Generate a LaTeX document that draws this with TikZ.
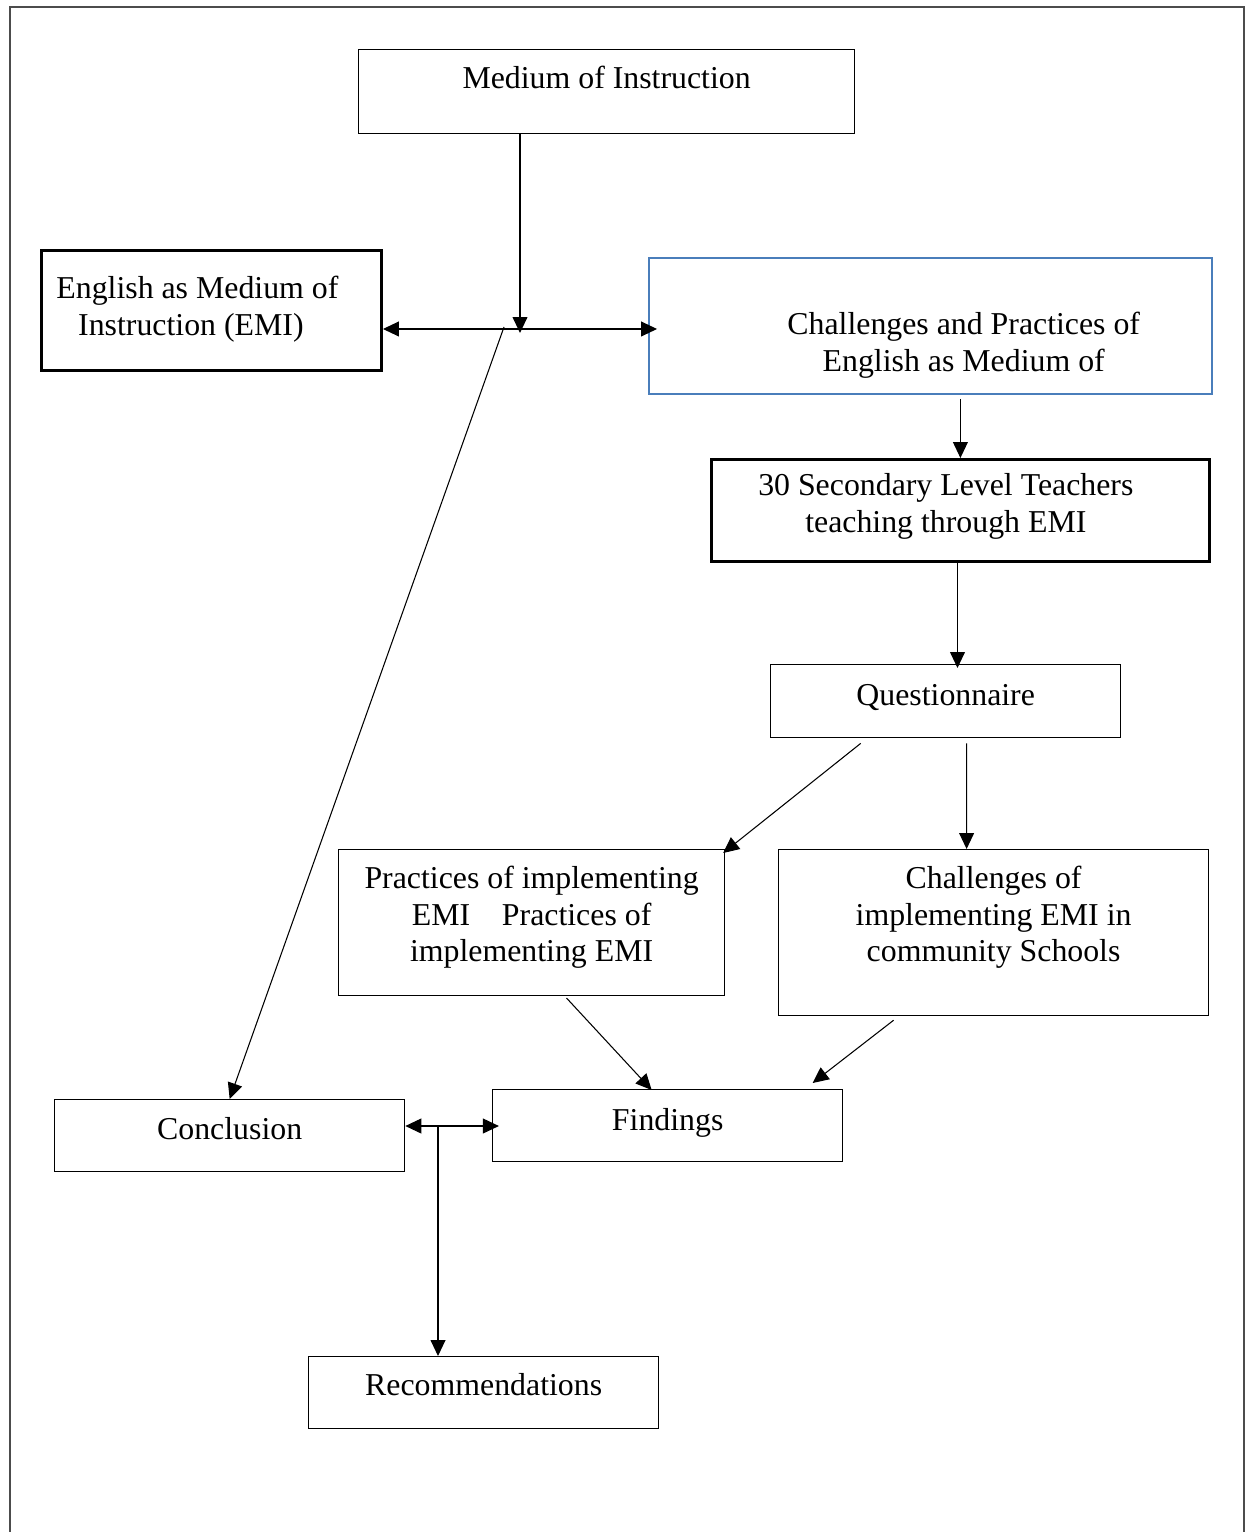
\documentclass[tikz,border=0pt]{standalone}
\usepackage{fontspec}
\setmainfont{Liberation Serif}
\usepackage{xcolor}
\usepackage{tikz}
\usetikzlibrary{arrows.meta}
\definecolor{boxblue}{HTML}{4A7EBB}

\begin{document}
\begin{tikzpicture}[
  x=0.377pt, y=-0.377pt,
  font=\fontsize{12}{13.8}\selectfont,
  box/.style={draw, anchor=north west, align=center, inner sep=0pt, line width=0.45pt},
  thickbox/.style={box, line width=1.1pt},
  bluebox/.style={box, draw=boxblue, line width=0.75pt},
  arrow/.style={-{Triangle[length=6pt, width=5.6pt]}},
  dblarrow/.style={{Triangle[length=6pt, width=5.6pt]}-{Triangle[length=6pt, width=5.6pt]}},
  frame/.style={draw=black!70, line width=0.6pt}
]
\useasboundingbox (0,0) rectangle (1252,1532);
\draw[frame] (10,1532) -- (10,7) -- (1244,7) -- (1244,1532);

\node[box, minimum width=187pt, text height=14.7pt, text depth=17pt] (moi) at (358,49) {Medium of Instruction};
\node[thickbox, minimum width=128.2pt, text height=31.9pt, text depth=13.3pt] (emi) at (40,249) {\hspace*{-10.6pt}English as Medium of\\\hspace*{-15.5pt}Instruction (EMI)};
\node[bluebox, minimum width=212.3pt, text height=42.8pt, text depth=8.4pt] (chal) at (648,257) {\hspace*{25pt}Challenges and Practices of\\\hspace*{25pt}English as Medium of};
\node[thickbox, minimum width=187.7pt, text height=27.4pt, text depth=11.1pt] (teach) at (710,458) {\hspace*{-11pt}30 Secondary Level Teachers\\\hspace*{-11pt}teaching through EMI};
\node[box, minimum width=132pt, text height=15.5pt, text depth=12.1pt] (qst) at (770,664) {Questionnaire};
\node[box, minimum width=145.5pt, text height=42.3pt, text depth=12.7pt] (prac) at (338,849) {Practices of implementing\\EMI\hspace{12pt}Practices of\\implementing EMI};
\node[box, minimum width=162.1pt, text height=42.3pt, text depth=20.3pt] (cimp) at (778,849) {Challenges of\\implementing EMI in\\community Schools};
\node[box, minimum width=132pt, text height=15.1pt, text depth=12.1pt] (concl) at (54,1099) {Conclusion};
\node[box, minimum width=132pt, text height=15.5pt, text depth=11.7pt] (find) at (492,1089) {Findings};
\node[box, minimum width=132pt, text height=14.7pt, text depth=12.4pt] (recs) at (308,1356) {Recommendations};

\coordinate (jn) at (520,329);
\coordinate (jd) at (504,327);
\coordinate (jb) at (438,1126);

\draw[arrow, shorten >=-1.5pt] (moi.south -| jn) -- (jn);
\draw[dblarrow, shorten >=-3.4pt] (emi.east |- jn) -- (chal.west |- jn);
\draw[arrow] (jd) -- (concl.north);
\draw[arrow, shorten <=1.5pt] (chal.south -| teach.north) -- (teach.north);
\draw[arrow, shorten >=-1.5pt] ([xshift=-1.1pt]teach.south) -- ([xshift=-1.1pt]teach.south |- qst.north);
\draw[arrow] ([shift={(-85,5)}]qst.south) -- ([shift={(-2,4)}]prac.north east);
\draw[arrow] ([shift={(21,5)}]qst.south) -- ([shift={(-27,0)}]cimp.north);
\draw[arrow] ([shift={(35,2)}]prac.south) -- ([shift={(-16,1)}]find.north);
\draw[arrow] ([shift={(-100,4)}]cimp.south) -- ([shift={(145,-6)}]find.north);
\draw[dblarrow, shorten >=-2.6pt] (concl.east |- jb) -- (find.west |- jb);
\draw[arrow] (jb) -- (jb |- recs.north);
\end{tikzpicture}
\end{document}
